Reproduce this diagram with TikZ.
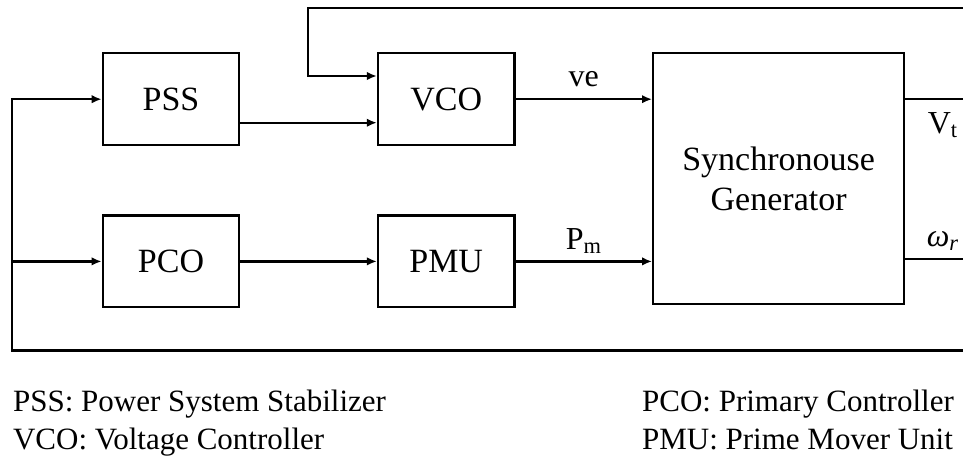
\documentclass[tikz,border=0pt]{standalone}
\usepackage{fontspec}
\setmainfont{Liberation Serif}
\usepackage{tikz}
\usetikzlibrary{arrows.meta,positioning}

\begin{document}
\begin{tikzpicture}[
  x=1pt, y=-1pt,
  node distance=68.3pt and 136.5pt,
  line width=2.2pt,
  block/.style={rectangle, draw, minimum width=136.5pt, minimum height=91.7pt, font=\fontsize{34}{40}\selectfont},
  bigblock/.style={block, minimum width=251pt, minimum height=250.7pt, align=center, font=\fontsize{34}{40}\selectfont},
  lbl/.style={font=\fontsize{32}{36}\selectfont, anchor=base, inner sep=0pt},
  legend/.style={font=\fontsize{31}{37.6}\selectfont, anchor=base west, inner sep=0pt},
  arrow/.style={-{Latex[length=10pt,width=8.5pt]}}
]
\useasboundingbox (0,0) rectangle (963,456);
\node[block] (pss) at (171,99.2) {PSS};
\node[block, right=of pss] (vco) {VCO};
\node[block, below=of pss] (pco) {PCO};
\node[block, right=of pco] (pmu) {PMU};
\node[bigblock, right=of vco.north east, anchor=north west] (sg) {Synchronouse\\Generator};
% free ends of the feedback lines
\coordinate (lft) at (11.7,350.5);
\coordinate (br) at (963,350.5);
\coordinate (tr) at (963,8.3);
\coordinate (tl) at (307.7,8.3);
\coordinate (vt) at (963,99.2);
\coordinate (wr) at (963,259.2);
% signal paths
\draw[arrow] (br) -- (lft) |- (pss.west);
\draw[arrow] (lft |- pco.west) -- (pco.west);
\draw[arrow] (tr) -- (tl) |- ([yshift=23.2pt]vco.west);
\draw[arrow] ([yshift=-23.5pt]pss.east) -- ([yshift=-23.5pt]vco.west);
\draw[arrow] (pco) -- (pmu);
\draw[arrow] (vco.east) -- (vco.east -| sg.west) node[lbl, midway, yshift=12.5pt] {ve};
\draw[arrow] (pmu.east) -- (pmu.east -| sg.west) node[lbl, midway, yshift=12pt] {P\textsubscript{m}};
\draw (sg.east |- vt) -- (vt) node[lbl, pos=0.65, yshift=-34pt] {V\textsubscript{t}};
\draw (sg.east |- wr) -- (wr) node[lbl, pos=0.65, yshift=12.5pt] {\textit{ω\textsubscript{r}}};
% legend
\node[legend] (legpss) at (12,411.7) {PSS: Power System Stabilizer};
\node[legend] (legvco) at (12,449.3) {VCO: Voltage Controller};
\node[legend] (legpco) at (641,411.7) {PCO: Primary Controller};
\node[legend] (legpmu) at (641,449.3) {PMU: Prime Mover Unit};
\end{tikzpicture}
\end{document}
